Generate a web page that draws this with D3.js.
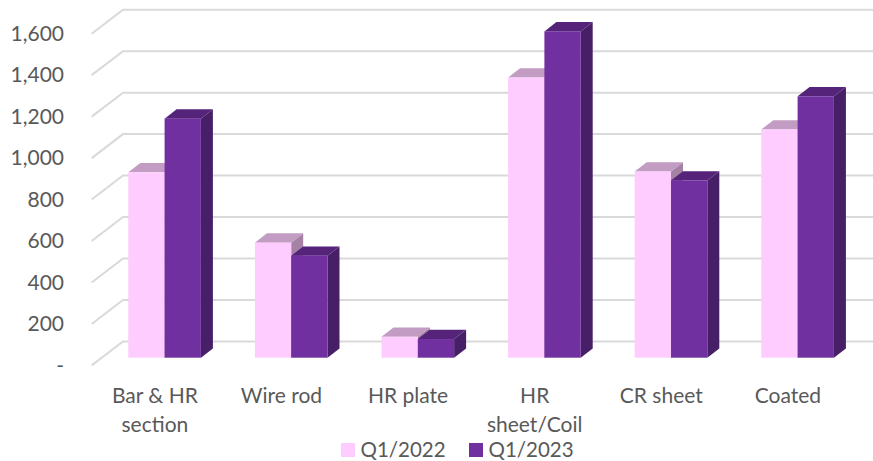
<!DOCTYPE html>
<html>
<head>
<meta charset="utf-8">
<script src="https://cdn.jsdelivr.net/npm/d3@7"></script>
<style>
html, body { margin: 0; padding: 0; background: #fff; }
text { font-family: Lato, "Open Sans", sans-serif; fill: #595959; }
</style>
</head>
<body>
<div id="chart"></div>
<script>
let categories = ["Bar & HR section", "Wire rod", "HR plate", "HR sheet/Coil", "CR sheet", "Coated"];
let categoryLines = [["Bar & HR", "section"], ["Wire rod"], ["HR plate"], ["HR", "sheet/Coil"], ["CR sheet"], ["Coated"]];
let seriesNames = ["Q1/2022", "Q1/2023"];
let q12022 = [894, 555, 101, 1351, 898, 1101];
let q12023 = [1153, 492, 90, 1574, 855, 1261];
let tickValues = [0, 200, 400, 600, 800, 1000, 1200, 1400, 1600];
let tickLabels = ["-", "200", "400", "600", "800", "1,000", "1,200", "1,400", "1,600"];

let width = 873;
let height = 461;

// front faces of the bars sit on this plane, walls are further back
let y = d3.scaleLinear().domain([0, 1600]).range([357.7, 26]);
let x = d3.scaleBand().domain(categories).range([91.7, 870.5]).paddingInner(0.4265).paddingOuter(0.289);
let xSeries = d3.scaleBand().domain(seriesNames).range([0, x.bandwidth()]);

let wallDx = 31.3, wallDy = 24;   // front of side wall to back wall
let wallFront = 7.7;              // side wall front sits lower than bar plane
let barDx = 12, barDy = 9.3;
let labelShift = -9.7;            // category labels are centred on the floor, not the bars

let colors = {
	"Q1/2022": { front: "#ffccff", top: "#c29cc2", side: "#a581a5" },
	"Q1/2023": { front: "#7030a0", top: "#55247a", side: "#471f66" }
};

let svg = d3.select("#chart").append("svg")
	.attr("width", width)
	.attr("height", height)
	.style("display", "block");

// gridlines on side wall and back wall
let grid = svg.append("g").attr("fill", "none").attr("stroke", "#d9d9d9").attr("stroke-width", 2);
grid.selectAll("path")
	.data(tickValues)
	.enter().append("path")
	.attr("d", function(d){
		let yf = y(d) + wallFront;
		return "M" + 91.7 + "," + yf + "L" + (91.7 + wallDx) + "," + (yf - wallDy) + "L" + width + "," + (yf - wallDy);
	});

// value axis labels
svg.append("g").selectAll("text")
	.data(tickValues)
	.enter().append("text")
	.attr("x", 64)
	.attr("y", function(d){ return y(d) + wallFront + 5; })
	.attr("text-anchor", "end")
	.attr("dy", "0.1em")
	.style("font-size", "21px")
	.text(function(d, i){ return tickLabels[i]; });

// bars, the later series is drawn over the side of the earlier one
let values = { "Q1/2022": q12022, "Q1/2023": q12023 };
seriesNames.forEach(function(name){
	let c = colors[name];
	let bars = svg.append("g").selectAll("g")
		.data(categories)
		.enter().append("g");
	function left(d){ return x(d) + xSeries(name); }
	function right(d){ return left(d) + xSeries.bandwidth(); }
	function top(d, i){ return y(values[name][i]); }

	bars.append("path")
		.attr("fill", c.side)
		.attr("d", function(d, i){
			let r = right(d), t = top(d, i), b = y(0);
			return "M" + r + "," + t + "L" + (r + barDx) + "," + (t - barDy) + "L" + (r + barDx) + "," + (b - barDy) + "L" + r + "," + b + "Z";
		});
	bars.append("path")
		.attr("fill", c.top)
		.attr("d", function(d, i){
			let l = left(d), r = right(d), t = top(d, i);
			return "M" + l + "," + t + "L" + (l + barDx) + "," + (t - barDy) + "L" + (r + barDx) + "," + (t - barDy) + "L" + r + "," + t + "Z";
		});
	bars.append("rect")
		.attr("fill", c.front)
		.attr("x", left)
		.attr("y", top)
		.attr("width", xSeries.bandwidth())
		.attr("height", function(d, i){ return y(0) - top(d, i); });
});

// category labels
let catLabels = svg.append("g").selectAll("text")
	.data(categories)
	.enter().append("text")
	.attr("text-anchor", "middle")
	.style("font-size", "21px");
catLabels.selectAll("tspan")
	.data(function(d, i){
		return categoryLines[i].map(function(line, j){ return { line: line, j: j, cat: d }; });
	})
	.enter().append("tspan")
	.attr("x", function(d){ return x(d.cat) + x.bandwidth() / 2 + labelShift; })
	.attr("y", function(d){ return 403 + d.j * 29; })
	.text(function(d){ return d.line; });

// legend
let legendX = d3.scalePoint().domain(seriesNames).range([341, 469]);
let legend = svg.append("g").selectAll("g")
	.data(seriesNames)
	.enter().append("g")
	.attr("transform", function(d){ return "translate(" + legendX(d) + ",443)"; });
legend.append("rect")
	.attr("width", 14)
	.attr("height", 14)
	.attr("fill", function(d){ return colors[d].front; });
legend.append("text")
	.attr("x", 19.5)
	.attr("y", 14)
	.style("font-size", "20.5px")
	.text(function(d){ return d; });
</script>
</body>
</html>
